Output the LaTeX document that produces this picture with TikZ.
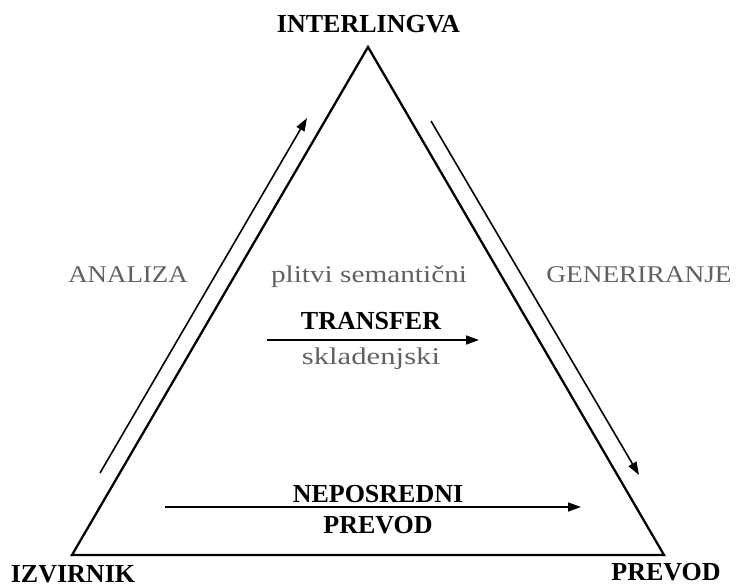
\documentclass[tikz,border=0pt]{standalone}
\usepackage{fontspec}
\setmainfont{Liberation Serif}
\usetikzlibrary{arrows.meta}
\begin{document}
\begin{tikzpicture}[x=1pt,y=-1pt,
  edge/.style={line width=2.3pt,line join=miter},
  flow/.style={line width=1.6pt,-{Triangle[length=13pt,width=9pt]}},
  corner/.style={font=\fontsize{26}{30}\selectfont\bfseries,anchor=base,inner sep=0pt},
  mid/.style={font=\fontsize{26}{30}\selectfont\bfseries,anchor=base,inner sep=0pt},
  grey/.style={font=\fontsize{24}{28}\selectfont,text=black!62,anchor=base,inner sep=0pt}]
\useasboundingbox (0,0) rectangle (736,587);
% triangle corners
\coordinate (top) at (368,47);
\coordinate (bl) at (72,555);
\coordinate (br) at (664,555);
\draw[edge] (top) -- (bl) -- (br) -- cycle;
% corner labels
\node[corner] (interlingva) at (368.5,32) {INTERLINGVA};
\node[corner] (izvirnik) at (73,582) {IZVIRNIK};
\node[corner] (prevod) at (666,580) {PREVOD};
% side arrows
\coordinate (a1) at (100,473);
\coordinate (a2) at (307,118);
\draw[flow] (a1) -- (a2);
\coordinate (g1) at (431,121);
\coordinate (g2) at (639,475);
\draw[flow] (g1) -- (g2);
% side labels
\node[grey] (analiza) at (128,282) {\scalebox{1.12}[1]{ANALIZA}};
\node[grey] (generiranje) at (639,282) {\scalebox{1.14}[1]{GENERIRANJE}};
% transfer
\node[grey] (plitvi) at (369,282) {\scalebox{1.22}[1]{plitvi semantični}};
\node[mid] (transfer) at (371,329) {TRANSFER};
\coordinate (t1) at (267,340);
\coordinate (t2) at (479,340);
\draw[flow] (t1) -- (t2);
\node[grey] (sklad) at (371,364) {\scalebox{1.28}[1]{skladenjski}};
% direct
\node[mid] (nep) at (378,502) {NEPOSREDNI};
\node[mid] (prev2) at (378,533) {PREVOD};
\coordinate (n1) at (165,507);
\coordinate (n2) at (581,507);
\draw[flow] (n1) -- (n2);
\end{tikzpicture}
\end{document}
